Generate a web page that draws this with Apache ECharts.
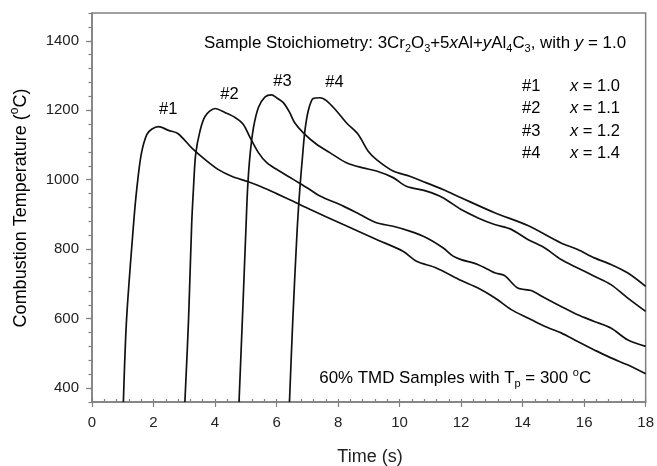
<!DOCTYPE html>
<html>
<head>
<meta charset="utf-8">
<script src="https://cdn.jsdelivr.net/npm/echarts@6/dist/echarts.min.js"></script>
<style>html,body{margin:0;padding:0;background:#fff;}#c{width:657px;height:466px;}</style>
</head>
<body>
<div id="c"></div>
<script>
// ---- data ----
const t1 = [1.02, 1.125, 1.35, 1.46, 1.60, 1.78, 1.95, 2.16, 2.49, 2.79, 3.24, 3.68, 4.11, 4.54, 5.08, 5.52, 6.00, 6.54, 7.08, 8.17, 9.25, 10.11, 10.55, 11.19, 12.00, 12.55, 13.09, 13.63, 14.17, 14.71, 15.25, 15.79, 16.33, 16.87, 17.41, 18.00];
const T1 = [360, 600, 871, 977, 1073, 1130, 1146, 1153, 1142, 1133, 1092, 1058, 1029, 1010, 994, 979, 960, 938, 915, 871, 828, 794, 765, 746, 710, 688, 660, 626, 602, 578, 559, 534, 510, 487, 467, 441];
const t2 = [3.02, 3.14, 3.24, 3.30, 3.37, 3.51, 3.68, 4.00, 4.33, 4.65, 4.92, 5.14, 5.41, 5.68, 6.00, 6.54, 7.08, 7.41, 8.17, 8.71, 9.25, 9.79, 10.33, 10.87, 11.41, 11.74, 12.00, 12.54, 13.09, 13.41, 13.84, 14.28, 14.71, 15.25, 15.79, 16.33, 16.87, 17.41, 18.00];
const T2 = [360, 600, 871, 977, 1073, 1140, 1183, 1205, 1193, 1179, 1159, 1121, 1078, 1049, 1030, 1001, 972, 953, 924, 900, 876, 866, 852, 833, 804, 780, 770, 756, 732, 724, 688, 681, 660, 635, 611, 592, 573, 539, 520];
const t3 = [4.78, 4.89, 5.01, 5.06, 5.14, 5.25, 5.41, 5.62, 5.84, 6.00, 6.22, 6.43, 6.59, 6.87, 7.30, 7.73, 8.27, 8.81, 9.25, 9.79, 10.22, 10.87, 11.41, 12.00, 12.55, 13.09, 13.63, 14.17, 14.71, 15.25, 15.79, 16.33, 16.87, 17.41, 18.00];
const T3 = [360, 600, 871, 977, 1073, 1150, 1208, 1238, 1244, 1236, 1222, 1193, 1164, 1135, 1102, 1078, 1049, 1034, 1025, 1006, 981, 967, 948, 914, 890, 871, 857, 828, 804, 770, 746, 722, 698, 660, 621];
const t4 = [6.42, 6.53, 6.67, 6.76, 6.85, 6.92, 7.03, 7.19, 7.41, 7.63, 7.95, 8.27, 8.65, 8.98, 9.25, 9.79, 10.33, 10.87, 11.41, 12.00, 13.09, 14.17, 15.25, 15.79, 16.33, 16.87, 17.41, 18.00];
const T4 = [360, 600, 856, 977, 1073, 1140, 1198, 1234, 1236, 1227, 1198, 1164, 1131, 1082, 1058, 1025, 1010, 991, 972, 948, 905, 868, 818, 799, 775, 756, 732, 693];

const seriesNames = ['#1', '#2', '#3', '#4'];
const xValues = ['1.0', '1.1', '1.2', '1.4'];
const yMajorTicks = [400, 600, 800, 1000, 1200, 1400];

const FONT = "'Liberation Sans', Arial, sans-serif";
const TXT = '#222';
const AX = '#808080';

function pairs(t, T) { return t.map((v, i) => [v, T[i]]); }
const allT = [t1, t2, t3, t4];
const allY = [T1, T2, T3, T4];

const chart = echarts.init(document.getElementById('c'), null, {renderer: 'canvas'});

const option = {
  animation: false,
  backgroundColor: '#fff',
  grid: {left: 92, right: 10, top: 13, bottom: 64, show: true, borderColor: AX, borderWidth: 1.5, backgroundColor: 'transparent'},
  xAxis: [
    {type: 'value', min: 0, max: 18, interval: 2,
     axisLine: {show: true, lineStyle: {color: AX, width: 1.5}},
     axisTick: {show: true, inside: false, length: 5, lineStyle: {color: AX, width: 1.2}},
     axisLabel: {show: true, margin: 13, fontSize: 15, fontFamily: FONT, color: TXT},
     splitLine: {show: false}},
    {type: 'value', min: 0, max: 18, interval: 0.4, position: 'bottom', offset: 0,
     axisLine: {show: false},
     axisTick: {show: true, inside: true, length: 3, lineStyle: {color: AX, width: 1.2}},
     axisLabel: {show: false}, splitLine: {show: false}}
  ],
  yAxis: [
    {type: 'value', min: 360, max: 1480, interval: 40, position: 'left', offset: 0,
     axisLine: {show: true, lineStyle: {color: AX, width: 1.5}},
     axisTick: {show: true, inside: false, length: 3.5, lineStyle: {color: AX, width: 1.2}},
     axisLabel: {show: false}, splitLine: {show: false}},
    {type: 'value', min: 360, max: 1480, position: 'left', offset: 0,
     axisLine: {show: false},
     axisTick: {show: true, inside: false, length: 6, customValues: yMajorTicks, lineStyle: {color: AX, width: 1.2}},
     axisLabel: {show: true, margin: 13, fontSize: 15, fontFamily: FONT, color: TXT, customValues: yMajorTicks,
                 formatter: v => String(v)},
     splitLine: {show: false}}
  ],
  series: allT.map((t, i) => ({
    type: 'line', name: seriesNames[i], xAxisIndex: 0, yAxisIndex: 0,
    data: pairs(t, allY[i]), showSymbol: false, smooth: 0.3, clip: true,
    lineStyle: {color: '#111', width: 1.7}
  })),
  graphic: []
};

function mkRich(FS) {
  return {
    n: {fontSize: FS, fontFamily: FONT, color: TXT, lineHeight: 22, verticalAlign: 'middle'},
    i: {fontSize: FS, fontFamily: FONT, color: TXT, fontStyle: 'italic', lineHeight: 22, verticalAlign: 'middle'},
    sub: {fontSize: 11, fontFamily: FONT, color: TXT, lineHeight: 11, verticalAlign: 'bottom'},
    sup: {fontSize: 11, fontFamily: FONT, color: TXT, lineHeight: 11, verticalAlign: 'top'}
  };
}
const rich = mkRich(16.5);
const richBig = mkRich(16.9);

const g = option.graphic;
g.push({type: 'text', left: 204, top: 34.7, style: {
  text: '{n|Sample Stoichiometry: 3Cr}{sub|2}{n|O}{sub|3}{n|+5}{i|x}{n|Al+}{i|y}{n|Al}{sub|4}{n|C}{sub|3}{n|, with }{i|y}{n| = 1.0}',
  rich: richBig}});
seriesNames.forEach((nm, i) => {
  g.push({type: 'text', left: 522, top: 78.3 + i * 22.1, style: {text: '{n|' + nm + '}', rich: rich}});
  g.push({type: 'text', left: 570, top: 78.3 + i * 22.1, style: {text: '{i|x}{n| = ' + xValues[i] + '}', rich: rich}});
});
// curve labels
const lab = [[159, 100.7], [220.3, 85.7], [273.3, 73], [325.3, 74]];
lab.forEach((p, i) => g.push({type: 'text', left: p[0], top: p[1], style: {text: '{n|' + seriesNames[i] + '}', rich: rich}}));

g.push({type: 'text', left: 319.3, top: 367.3, style: {
  text: '{n|60% TMD Samples with T}{sub|p}{n| = 300 }{sup|o}{n|C}', rich: richBig}});

// axis titles
g.push({type: 'text', x: 21, y: 208, rotation: Math.PI / 2, style: {
  text: '{a|Combustion Temperature (}{s|o}{a|C)}', align: 'center', verticalAlign: 'middle',
  rich: {a: {fontSize: 18, fontFamily: FONT, color: TXT, lineHeight: 24, verticalAlign: 'middle'},
         s: {fontSize: 12, fontFamily: FONT, color: TXT, lineHeight: 12, verticalAlign: 'top'}}}});
g.push({type: 'text', x: 370, y: 457, style: {
  text: 'Time (s)', align: 'center', verticalAlign: 'middle', fontSize: 18, fontFamily: FONT, fill: TXT}});

chart.setOption(option);
</script>
</body>
</html>
